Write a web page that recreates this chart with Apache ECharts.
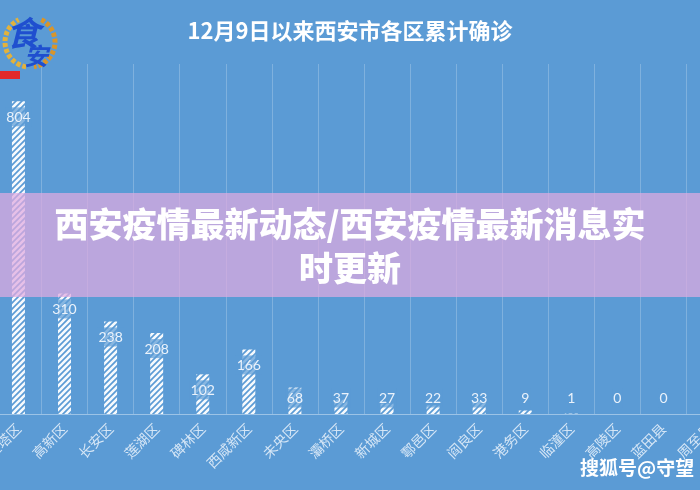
<!DOCTYPE html>
<html>
<head>
<meta charset="utf-8">
<script src="https://cdn.jsdelivr.net/npm/echarts@6/dist/echarts.min.js"></script>
<style>html,body{margin:0;padding:0;background:#5b9bd5;}#c{width:700px;height:490px;}</style>
</head>
<body>
<div id="c"></div>
<script>
const districts = ['雁塔区','高新区','长安区','莲湖区','碑林区','西咸新区','未央区','灞桥区','新城区','鄠邑区','阎良区','港务区','临潼区','高陵区','蓝田县','周至县'];
const confirmed = [804, 310, 238, 208, 102, 166, 68, 37, 27, 22, 33, 9, 1, 0, 0, 0];
const titleText = '12月9日以来西安市各区累计确诊';
const bannerText = '西安疫情最新动态/西安疫情最新消息实\n时更新';
const watermarkText = '搜狐号@守望';

// hatch pattern
const pc = document.createElement('canvas');
pc.width = 6; pc.height = 6;
const g = pc.getContext('2d');
g.strokeStyle = 'rgba(255,255,255,0.95)';
g.lineWidth = 2.6;
g.beginPath();
g.moveTo(-1, 7); g.lineTo(7, -1);
g.moveTo(-4, 4); g.lineTo(4, -4);
g.moveTo(2, 10); g.lineTo(10, 2);
g.stroke();

const labelBase = {
  show: true,
  color: '#eaf2fb',
  fontFamily: 'Lato',
  fontSize: 14,
  backgroundColor: 'rgba(91,155,213,0.72)',
  padding: [3, 1, 2, 1]
};
const tallLabel = Object.assign({}, labelBase, {position: 'insideTop', distance: 6});
const shortLabel = Object.assign({}, labelBase, {position: ['50%', '100%'], offset: [0, -16], align: 'center', verticalAlign: 'middle'});

const barData = confirmed.map(v => ({value: v, label: v >= 80 ? tallLabel : shortLabel}));

const chart = echarts.init(document.getElementById('c'), null, {renderer: 'canvas'});
chart.setOption({
  backgroundColor: '#5b9bd5',
  animation: false,
  title: {
    text: titleText,
    left: 'center',
    top: 15,
    textStyle: {color: '#ffffff', fontSize: 22, fontWeight: 'bold', fontFamily: 'Noto Sans CJK SC'}
  },
  grid: {left: -4.6, right: -32.6, top: 64, bottom: 76, containLabel: false, outerBoundsMode: 'none'},
  xAxis: {
    type: 'category',
    data: districts,
    axisTick: {show: false},
    axisLine: {lineStyle: {color: 'rgba(255,255,255,0.4)', width: 1}},
    splitLine: {show: true, lineStyle: {color: 'rgba(255,255,255,0.22)', width: 1}},
    axisLabel: {rotate: 45, margin: 12, color: 'rgba(235,243,251,0.85)', fontSize: 14, fontFamily: 'Noto Sans CJK SC', interval: 0}
  },
  yAxis: {
    type: 'value', min: 0, max: 900, show: false,
    splitLine: {show: false}
  },
  series: [{
    type: 'bar',
    data: barData,
    barWidth: 13,
    itemStyle: {color: {image: pc, repeat: 'repeat'}}
  }],
  graphic: [
    {type: 'arc', shape: {cx: 30, cy: 42, r: 25, startAngle: Math.PI * 0.55, endAngle: Math.PI * 1.35}, style: {stroke: '#e3b23c', lineWidth: 5, lineDash: [4, 2], fill: null}, z: 50},
    {type: 'arc', shape: {cx: 30, cy: 42, r: 25, startAngle: -Math.PI * 0.35, endAngle: Math.PI * 0.45}, style: {stroke: '#d9952a', lineWidth: 5, lineDash: [4, 2], fill: null}, z: 50},
    {type: 'text', left: 6, top: 16, style: {text: '食', fill: '#1f4fcf', font: 'italic bold 34px "Noto Sans CJK SC"'}, z: 51},
    {type: 'text', left: 24, top: 44, style: {text: '安', fill: '#1f4fcf', font: 'italic bold 24px "Noto Sans CJK SC"'}, z: 51},
    {type: 'rect', shape: {x: 0, y: 71, width: 20, height: 8}, style: {fill: '#e22a2a'}, z: 51},
    {type: 'rect', shape: {x: 0, y: 193, width: 700, height: 104}, style: {fill: 'rgba(223,170,223,0.73)'}, z: 100},
    {type: 'text', x: 350, y: 246, style: {text: bannerText, fill: '#ffffff', font: '900 34px "Noto Sans CJK SC"', align: 'center', verticalAlign: 'middle', lineHeight: 44}, z: 101},
    {type: 'text', x: 580, y: 468, style: {text: watermarkText, fill: '#ffffff', font: 'bold 19px "Noto Sans CJK SC"', verticalAlign: 'middle', shadowColor: 'rgba(0,0,0,0.9)', shadowOffsetX: 2, shadowOffsetY: 2, shadowBlur: 1}, z: 101}
  ]
});
</script>
</body>
</html>
